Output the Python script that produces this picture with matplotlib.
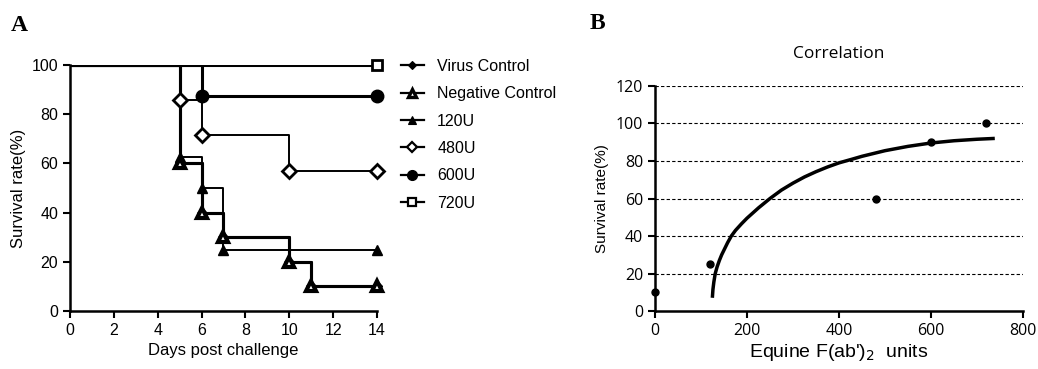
import matplotlib.pyplot as plt
from matplotlib.lines import Line2D

plt.rcParams["font.family"] = ["Liberation Sans", "DejaVu Sans"]

# Panel A: Kaplan-Meier survival data
groups = ["Virus Control", "Negative Control", "120U", "480U", "600U", "720U"]
days = {
    "Virus Control": [0, 5, 6, 7, 10, 11, 14],
    "Negative Control": [0, 5, 6, 7, 10, 11, 14],
    "120U": [0, 5, 6, 7, 14],
    "480U": [0, 5, 6, 10, 14],
    "600U": [0, 6, 14],
    "720U": [0, 14],
}
survival = {
    "Virus Control": [100, 60, 40, 30, 20, 10, 10],
    "Negative Control": [100, 60, 40, 30, 20, 10, 10],
    "120U": [100, 62.5, 50, 25, 25],
    "480U": [100, 85.7, 71.4, 57.1, 57.1],
    "600U": [100, 87.5, 87.5],
    "720U": [100, 100],
}

# Panel B: dose vs survival, plus the fitted curve
dose = [0, 120, 480, 600, 720]
dose_surv = [10, 25, 60, 90, 100]
fit_x = [125, 126, 128, 131, 135, 140, 145, 150, 158, 166, 175, 188, 200, 225, 250, 275, 300,
         325, 350, 375, 400, 429, 450, 475, 500, 550, 600, 650, 700, 735]
fit_y = [8, 11.5, 15.5, 20, 23.5, 27, 30, 32.5, 36.5, 40, 43, 46.5, 49.5, 55, 60, 64.5, 68.2,
         71.5, 74.3, 76.8, 79, 81, 82.5, 84, 85.5, 87.8, 89.6, 90.8, 91.6, 92]

styles = {
    "Virus Control": dict(marker="D", mfc="black", ms=5, lw=2.2),
    "Negative Control": dict(marker="^", mfc="white", ms=7.5, mew=3.0, lw=2.2),
    "120U": dict(marker="^", mfc="black", ms=7, lw=1.4),
    "480U": dict(marker="D", mfc="white", ms=7, mew=2.0, lw=1.4),
    "600U": dict(marker="o", mfc="black", ms=9, lw=2.2),
    "720U": dict(marker="s", mfc="white", ms=7, mew=2.0, lw=2.2),
}

fig = plt.figure(figsize=(10.38, 3.69), dpi=100)

ax = fig.add_axes([0.0674, 0.157, 0.2958, 0.667])
handles = []
for g in groups:
    st = styles[g]
    ax.step(days[g], survival[g], where="post", color="black", lw=st["lw"], zorder=2)
    ax.plot(days[g][1:], survival[g][1:], ls="none", marker=st["marker"], mfc=st["mfc"],
            mec="black", ms=st["ms"], mew=st.get("mew", 1.0), zorder=3, clip_on=False)
    handles.append(Line2D([], [], color="black", lw=1.6, marker=st["marker"], mfc=st["mfc"],
                          mec="black", ms=st["ms"] * 0.8, mew=st.get("mew", 1.0) * 0.8))

ax.set_xlim(0, 14)
ax.set_ylim(0, 100)
ax.set_xticks(range(0, 15, 2))
ax.set_yticks(range(0, 101, 20))
for s in ["top", "right"]:
    ax.spines[s].set_visible(False)
for s in ["left", "bottom"]:
    ax.spines[s].set_linewidth(1.8)
ax.tick_params(direction="out", width=1.5, length=5, labelsize=11.5)
ax.set_xlabel("Days post challenge", fontsize=12, labelpad=4)
ax.set_ylabel("Survival rate(%)", fontsize=12, labelpad=4)

fig.legend(handles, groups, loc="upper left", bbox_to_anchor=(0.372, 0.88), frameon=False,
           handlelength=1.5, labelspacing=0.78, handletextpad=0.8,
           prop={"family": ["Liberation Sans", "DejaVu Sans"], "size": 11.5})

fig.text(0.010, 0.93, "A", fontsize=17, fontweight="bold", family="Liberation Serif",
         va="center", ha="left")
fig.text(0.568, 0.935, "B", fontsize=17, fontweight="bold", family="Liberation Serif",
         va="center", ha="left")

bx = fig.add_axes([0.631, 0.157, 0.3545, 0.61])
for yv in range(20, 121, 20):
    bx.axhline(yv, color="black", ls=(0, (3, 2)), lw=0.8, zorder=1)
bx.plot(fit_x, fit_y, color="black", lw=2.5, zorder=2)
bx.plot(dose, dose_surv, ls="none", marker="o", color="black", ms=5, zorder=3, clip_on=False)
bx.set_xlim(0, 800)
bx.set_ylim(0, 120)
bx.set_xticks(range(0, 801, 200))
bx.set_yticks(range(0, 121, 20))
for s in ["top", "right"]:
    bx.spines[s].set_visible(False)
for s in ["left", "bottom"]:
    bx.spines[s].set_linewidth(1.8)
bx.tick_params(direction="out", width=1.5, length=5, labelsize=11.5)
for lab in bx.get_xticklabels() + bx.get_yticklabels():
    lab.set_family(["Open Sans", "DejaVu Sans"])
bx.set_xlabel("Equine F(ab')$_2$  units", fontsize=14, family=["Liberation Sans", "DejaVu Sans"],
              labelpad=2)
bx.set_ylabel("Survival rate(%)", fontsize=11, family=["Liberation Sans", "DejaVu Sans"],
              labelpad=5)
bx.set_title("Correlation", fontsize=12.5, family=["Open Sans", "DejaVu Sans"], pad=20)

fig.savefig("out.png", dpi=100)
